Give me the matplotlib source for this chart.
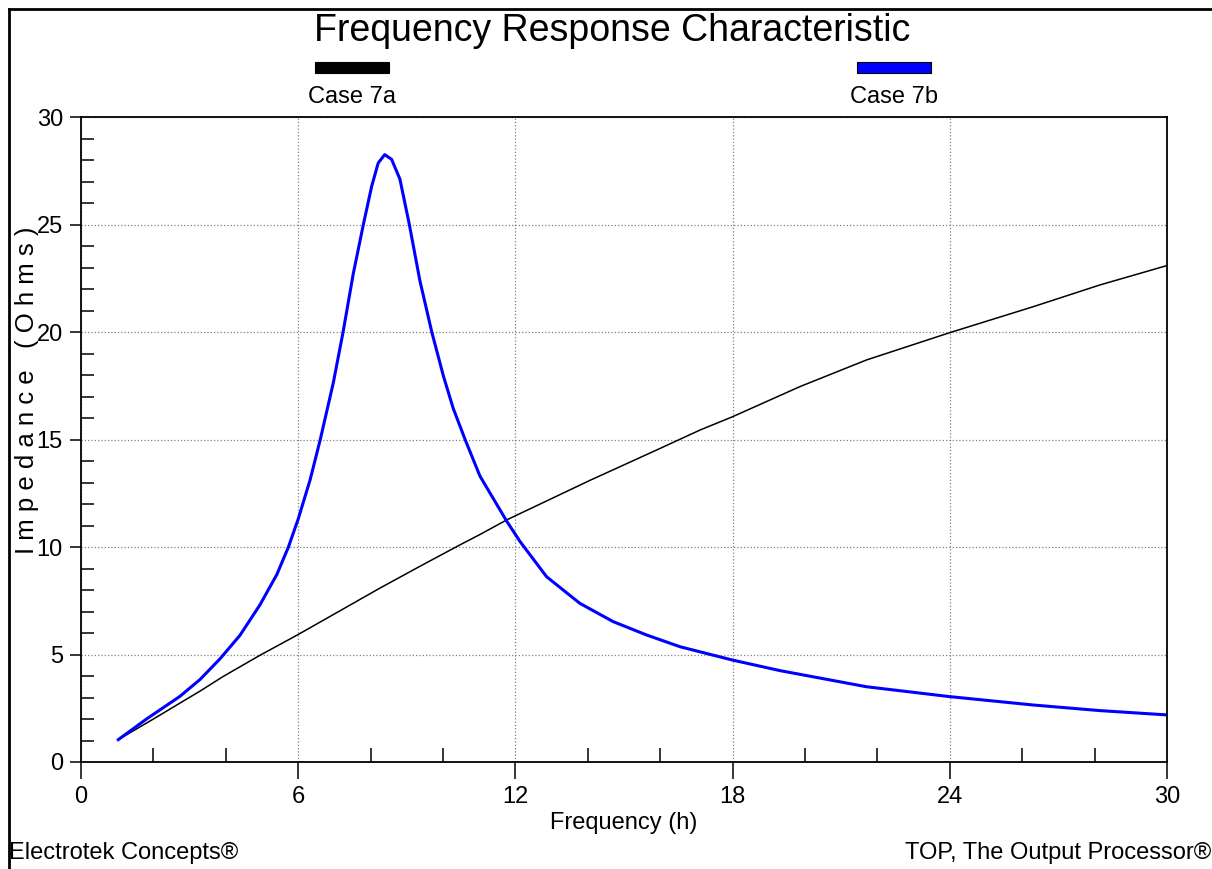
import matplotlib
matplotlib.use("Agg")
import matplotlib.pyplot as plt
from matplotlib.lines import Line2D
from matplotlib.patches import Rectangle
from matplotlib.ticker import MultipleLocator

plt.rcParams["font.family"] = ["Liberation Sans", "DejaVu Sans"]

# Case 7a (black)
freq_a = [1.03, 2.0, 3.29, 3.93, 4.94, 6.0, 8.26, 9.36, 10.47, 11.02, 11.76, 14.06,
          15.90, 17.1, 18.0, 19.86, 21.70, 24.0, 26.31, 28.15, 30.0]
imp_a = [1.04, 2.0, 3.30, 3.98, 4.96, 5.93, 8.09, 9.10, 10.1, 10.58, 11.26, 13.1,
         14.51, 15.44, 16.06, 17.46, 18.70, 19.97, 21.18, 22.19, 23.09]

# Case 7b (blue)
freq_b = [1.03, 1.81, 2.73, 3.29, 3.84, 4.39, 4.94, 5.41, 5.73, 6.0, 6.33, 6.61,
          6.97, 7.24, 7.52, 7.80, 8.03, 8.21, 8.39, 8.58, 8.81, 9.07, 9.36,
          9.69, 10.01, 10.28, 10.61, 11.02, 11.76, 12.13, 12.86, 13.78, 14.70,
          15.62, 16.55, 18.0, 19.31, 21.70, 24.0, 26.31, 28.15, 30.0]
imp_b = [1.04, 2.0, 3.05, 3.84, 4.8, 5.89, 7.30, 8.72, 10.0, 11.30, 13.13, 15.0,
         17.64, 20.0, 22.7, 25.0, 26.78, 27.86, 28.25, 28.03, 27.11, 25.0,
         22.4, 20.0, 17.96, 16.46, 15.0, 13.3, 11.2, 10.25, 8.62, 7.38, 6.53,
         5.91, 5.36, 4.74, 4.25, 3.50, 3.04, 2.65, 2.39, 2.19]

cases = ["Case 7a", "Case 7b"]
colors = ["black", "#0000ff"]

W, H = 1212, 869
fig = plt.figure(figsize=(W / 100, H / 100), dpi=100)
ax = fig.add_axes([81 / W, 1 - 762 / H, 1086 / W, 645 / H])

ax.plot(freq_a, imp_a, color=colors[0], lw=1.1)
ax.plot(freq_b, imp_b, color=colors[1], lw=2.2, solid_joinstyle="round")

ax.set_xlim(0, 30)
ax.set_ylim(0, 30)
ax.xaxis.set_major_locator(MultipleLocator(6))
ax.xaxis.set_minor_locator(MultipleLocator(2))
ax.yaxis.set_major_locator(MultipleLocator(5))
ax.yaxis.set_minor_locator(MultipleLocator(1))

ax.tick_params(axis="x", which="major", direction="out", length=12, width=1.1,
               labelsize=17, pad=5)
ax.tick_params(axis="x", which="minor", direction="in", length=10, width=1.1)
ax.tick_params(axis="y", which="major", direction="out", length=8, width=1.1,
               labelsize=17, pad=5)
ax.tick_params(axis="y", which="minor", direction="in", length=9, width=1.1)

ax.grid(True, which="major", color="#808080", linestyle=":", lw=0.9)
for s in ax.spines.values():
    s.set_linewidth(1.3)

ax.set_xlabel("Frequency (h)", fontsize=17)
ax.xaxis.set_label_coords(0.5, -0.077)

fig.text(27 / W, 1 - 390 / H, "I m p e d a n c e   ( O h m s )", rotation=90,
         ha="center", va="center", fontsize=18.5)

fig.text(612 / W, 1 - 31 / H, "Frequency Response Characteristic",
         ha="center", va="center", fontsize=27)

# legend bars and labels
bar_x = [315, 857]
for cx, case, col in zip(bar_x, cases, colors):
    fig.add_artist(Rectangle((cx / W, 1 - 73 / H), 74 / W, 11 / H,
                             transform=fig.transFigure, facecolor=col,
                             edgecolor="black", lw=0.8))
    fig.text((cx + 37) / W, 1 - 97 / H, case, ha="center", va="center",
             fontsize=17)

fig.text(9 / W, 1 - 853 / H, "Electrotek Concepts®", ha="left", va="center",
         fontsize=17)
fig.text(1211 / W, 1 - 853 / H, "TOP, The Output Processor®", ha="right",
         va="center", fontsize=17)

# outer frame (left and top edges visible)
fig.add_artist(Line2D([8.5 / W, 8.5 / W], [0, 1 - 8.5 / H], transform=fig.transFigure,
                      color="black", lw=2.0))
fig.add_artist(Line2D([8.5 / W, 1], [1 - 8.5 / H, 1 - 8.5 / H], transform=fig.transFigure,
                      color="black", lw=2.0))

fig.savefig("out.png", dpi=100)
